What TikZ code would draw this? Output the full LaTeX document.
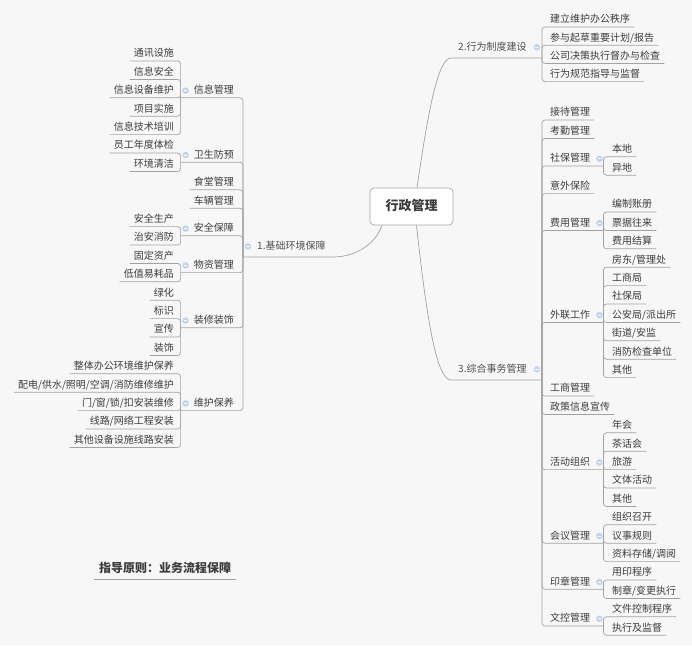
\documentclass[tikz,border=0pt]{standalone}
\usepackage{fontspec}
\setmainfont{Noto Sans CJK SC}
\definecolor{bg}{HTML}{F7F7F7}
\definecolor{txt}{HTML}{3C3C3C}
\definecolor{txtb}{HTML}{505050}
\definecolor{linec}{HTML}{A2A2A2}
\definecolor{icoc}{HTML}{C3D3EC}
\definecolor{ctrline}{HTML}{A8A8A8}
\begin{document}
\begin{tikzpicture}[x=1pt,y=-1pt,
  every node/.style={font=\fontsize{10}{12}\selectfont, text=txt, text height=8pt, text depth=2pt, inner ysep=2pt, inner xsep=4pt},
  rn/.style={anchor=south west},
  ln/.style={anchor=south east},
  brn/.style={inner ysep=5.5pt, text=txtb},
  ctrbox/.style={draw=ctrline, fill=white, rounded corners=4pt, minimum width=83pt, minimum height=37pt, line width=0.7pt,
     font=\fontsize{13}{15}\selectfont\bfseries, text=txt, text height=10pt, text depth=3pt},
  guide/.style={anchor=south west, font=\fontsize{12}{14}\selectfont\bfseries, text height=9.5pt, text depth=2.5pt, inner ysep=3.5pt, inner xsep=5pt},
  conn/.style={draw=linec, line width=0.7pt, rounded corners=3pt},
  mmicon/.pic={\fill[icoc] (0,0) circle (3.3); \draw[white, line width=0.7pt] (-1.8,0) -- (1.8,0);}
]
\fill[bg] (0,0) rectangle (692,645);
\useasboundingbox (0,0) rectangle (692,645);

% centre
\node[ctrbox] (ctr) at (411.5,206.5) {行政管理};

% branches
\node[rn,brn] (b2) at (454,58) {2.行为制度建设};
\node[rn,brn] (b3) at (454,380) {3.综合事务管理};
\node[rn,brn] (b1) at (253,257) {1.基础环境保障};
\coordinate (b2b) at (542,58);
\coordinate (b3b) at (542,380);
\coordinate (b1b) at (243,257);
\coordinate (b2i) at (537,58);
\coordinate (b3i) at (537,380);
\coordinate (b1i) at (248,257);

\draw[conn] ([xshift=5.5pt]ctr.north) .. controls (427,120) and (437,58) .. (b2.south west) -- (b2b);
\draw[conn] ([xshift=5pt]ctr.south) .. controls (426,313) and (436,380) .. (b3.south west) -- (b3b);
\draw[conn] ([xshift=-29.5pt]ctr.south) .. controls (375,245) and (355,257) .. (b1.south east) -- (b1b);

% branch 2 children
\node[rn] (n21) at (546,27) {建立维护办公秩序};
\node[rn] (n22) at (546,45.2) {参与起草重要计划/报告};
\node[rn] (n23) at (546,63.4) {公司决策执行督办与检查};
\node[rn] (n24) at (546,81.6) {行为规范指导与监督};
\foreach \c in {n21,n22,n23,n24} \draw[conn] (b2b) |- (\c.south east);

% branch 3 level 2
\node[rn] (jd) at (546,120) {接待管理};
\node[rn] (kq) at (546,138.4) {考勤管理};
\node[rn] (sb) at (546,166) {社保管理};
\node[rn] (yw) at (546,193.6) {意外保险};
\node[rn] (fy) at (546,230.4) {费用管理};
\node[rn] (wl) at (546,322.4) {外联工作};
\node[rn] (gs) at (546,396) {工商管理};
\node[rn] (zc) at (546,414.4) {政策信息宣传};
\node[rn] (hd) at (546,469.6) {活动组织};
\node[rn] (hy) at (546,543.2) {会议管理};
\node[rn] (yz) at (546,589.2) {印章管理};
\node[rn] (wk) at (546,626) {文控管理};

% branch 3 level 3
\node[rn] (sb1) at (608,156.8) {本地};
\node[rn] (sb2) at (608,175.2) {异地};
\node[rn] (fy1) at (608,212) {编制账册};
\node[rn] (fy2) at (608,230.4) {票据往来};
\node[rn] (fy3) at (608,248.8) {费用结算};
\node[rn] (wl1) at (608,267.2) {房东/管理处};
\node[rn] (wl2) at (608,285.6) {工商局};
\node[rn] (wl3) at (608,304) {社保局};
\node[rn] (wl4) at (608,322.4) {公安局/派出所};
\node[rn] (wl5) at (608,340.8) {街道/安监};
\node[rn] (wl6) at (608,359.2) {消防检查单位};
\node[rn] (wl7) at (608,377.6) {其他};
\node[rn] (hd1) at (608,432.8) {年会};
\node[rn] (hd2) at (608,451.2) {茶话会};
\node[rn] (hd3) at (608,469.6) {旅游};
\node[rn] (hd4) at (608,488) {文体活动};
\node[rn] (hd5) at (608,506.4) {其他};
\node[rn] (hy1) at (608,524.8) {组织召开};
\node[rn] (hy2) at (608,543.2) {议事规则};
\node[rn] (hy3) at (608,561.6) {资料存储/调阅};
\node[rn] (yz1) at (608,580) {用印程序};
\node[rn] (yz2) at (608,598.4) {制章/变更执行};
\node[rn] (wk1) at (608,616.8) {文件控制程序};
\node[rn] (wk2) at (608,635.2) {执行及监督};

\foreach \p in {sb,fy,wl,hd,hy,yz,wk} {
  \coordinate (\p-b) at ([xshift=9pt]\p.south east);
  \draw[conn] (b3b) |- (\p-b);
  \pic at ([xshift=5pt]\p.east) {mmicon};
}
\foreach \c in {jd,kq,yw,gs,zc} \draw[conn] (b3b) |- (\c.south east);
\foreach \p/\c in {sb/sb1,sb/sb2,fy/fy1,fy/fy2,fy/fy3,wl/wl1,wl/wl2,wl/wl3,wl/wl4,wl/wl5,wl/wl6,wl/wl7,
  hd/hd1,hd/hd2,hd/hd3,hd/hd4,hd/hd5,hy/hy1,hy/hy2,hy/hy3,yz/yz1,yz/yz2,wk/wk1,wk/wk2}
  \draw[conn] (\p-b) |- (\c.south east);

% branch 1 level 2
\node[ln] (xx) at (238,97.8) {信息管理};
\node[ln] (ws) at (238,162.2) {卫生防预};
\node[ln] (st) at (238,189.8) {食堂管理};
\node[ln] (cl) at (238,208.2) {车辆管理};
\node[ln] (aq) at (238,235.8) {安全保障};
\node[ln] (wz) at (238,272.6) {物资管理};
\node[ln] (zx) at (238,327.8) {装修装饰};
\node[ln] (wh) at (238,410.6) {维护保养};

% branch 1 level 3
\node[ln] (xx1) at (178,61) {通讯设施};
\node[ln] (xx2) at (178,79.4) {信息安全};
\node[ln] (xx3) at (178,97.8) {信息设备维护};
\node[ln] (xx4) at (178,116.2) {项目实施};
\node[ln] (xx5) at (178,134.6) {信息技术培训};
\node[ln] (ws1) at (178,153) {员工年度体检};
\node[ln] (ws2) at (178,171.4) {环境清洁};
\node[ln] (aq1) at (178,226.6) {安全生产};
\node[ln] (aq2) at (178,245) {治安消防};
\node[ln] (wz1) at (178,263.4) {固定资产};
\node[ln] (wz2) at (178,281.8) {低值易耗品};
\node[ln] (zx1) at (178,300.2) {绿化};
\node[ln] (zx2) at (178,318.6) {标识};
\node[ln] (zx3) at (178,337) {宣传};
\node[ln] (zx4) at (178,355.4) {装饰};
\node[ln] (wh1) at (178,373.8) {整体办公环境维护保养};
\node[ln] (wh2) at (178,392.2) {配电/供水/照明/空调/消防维修维护};
\node[ln] (wh3) at (178,410.6) {门/窗/锁/扣安装维修};
\node[ln] (wh4) at (178,429) {线路/网络工程安装};
\node[ln] (wh5) at (178,447.4) {其他设备设施线路安装};

\foreach \p in {xx,ws,aq,wz,zx,wh} {
  \coordinate (\p-b) at ([xshift=-9pt]\p.south west);
  \draw[conn] (b1b) |- (\p-b);
  \pic at ([xshift=-4pt]\p.west) {mmicon};
}
\foreach \c in {st,cl} \draw[conn] (b1b) |- (\c.south west);
\foreach \p/\c in {xx/xx1,xx/xx2,xx/xx3,xx/xx4,xx/xx5,ws/ws1,ws/ws2,aq/aq1,aq/aq2,wz/wz1,wz/wz2,
  zx/zx1,zx/zx2,zx/zx3,zx/zx4,wh/wh1,wh/wh2,wh/wh3,wh/wh4,wh/wh5}
  \draw[conn] (\p-b) |- (\c.south west);

% branch icons
\pic at (b2.east -| b2i) {mmicon};
\pic at (b3.east -| b3i) {mmicon};
\pic at (b1.west -| b1i) {mmicon};

% guide
\node[guide] (gd) at (94,579) {指导原则：业务流程保障};
\draw[conn] (gd.south west) -- (gd.south east);
\end{tikzpicture}
\end{document}
